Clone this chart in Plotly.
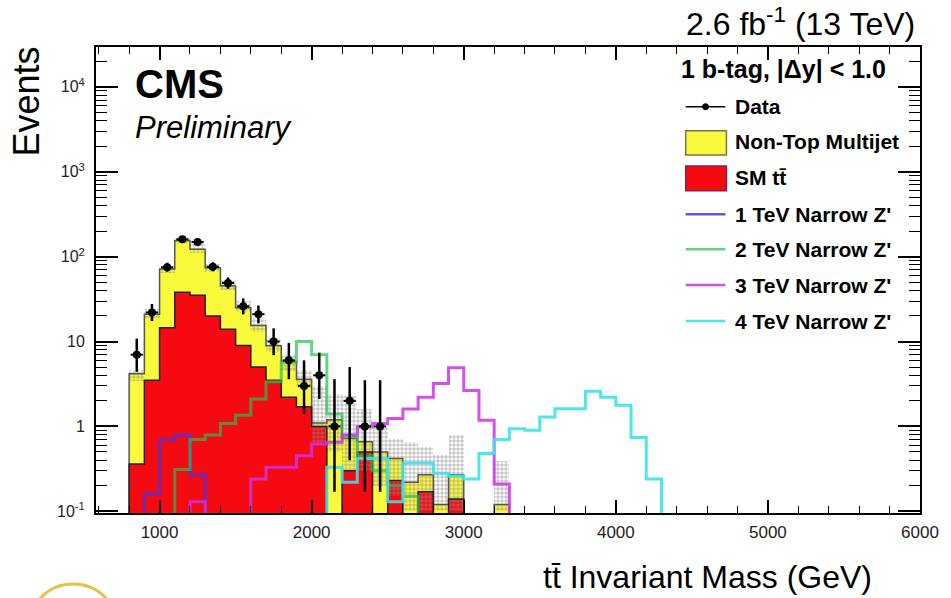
import plotly.graph_objects as go

# ---------------- data ----------------
first_edge = 800          # GeV, lower edge of first bin
bin_width = 100           # GeV

# stacked backgrounds, bins from 800 GeV
ttbar    = [0.36, 3.5, 14.5, 38, 35, 20, 14, 9, 5, 3.5, 2.2, 1.7, 1.0, 0.05, 0.3, 0.5,
            0.05, 0.23, 0.05, 0.17, 0.05, 0.14, 0, 0, 0.0, 0]
multijet = [3.8, 17.5, 57, 117, 87, 54, 31, 16, 10.4, 5.4, 3.6, 1.9, 0.1, 1.15, 0.42, 0.16,
            0.45, 0.19, 0.17, 0.1, 0.07, 0.13, 0, 0, 0.12, 0]
unc_hi   = [4.6, 24, 78, 165, 145, 82, 52, 30, 19, 11, 7, 4.6, 3.0, 2.4, 2.3, 1.6,
            0.95, 0.72, 0.66, 0.58, 0.46, 0.79, 0, 0, 0.39, 0]
unc_lo   = [3.4, 19, 65, 140, 110, 66, 40, 22, 13, 7.5, 4.5, 2.8, 0.6, 0.5, 0.3, 0.3,
            0.2, 0.15, 0.1, 0.1, 0.1, 0.1, 0, 0, 0.1, 0]

# data, bins from 800 GeV
data        = [7, 22, 75, 160, 149, 76, 49, 26, 21, 10, 6, 3, 4, 1, 2, 1, 1]
data_err_up = [3.8, 5.7, 9.7, 13.6, 13.2, 9.8, 8.0, 6.2, 5.6, 4.3, 3.6, 3.0, 3.4, 2.6, 3.0, 2.5, 2.5]
data_err_dn = [2.6, 4.6, 8.6, 12.6, 12.2, 8.7, 7.0, 5.1, 4.6, 3.1, 2.4, 1.6, 1.9, 0.83, 1.6, 0.83, 0.83]

# signals (first bin lower edge, contents)
z1_start = 900
z1 = [0.16, 0.69, 0.79, 0.27]
z2_start = 1100
z2 = [0.31, 0.7, 0.79, 1.08, 1.35, 2.1, 3.35, 5.7, 10, 7, 1.4, 0.75, 0.45, 0.3, 0.2, 0.15]
z3_start = 1200
z3 = [0.13, 0.05, 0.05, 0.05, 0.24, 0.33, 0.33, 0.45, 0.62, 0.65, 0.79, 0.99, 1.08, 1.24,
      1.6, 2.2, 3.2, 4.9, 2.65, 1.18, 0.21]
z4_start = 2100
z4 = [0.33, 0.22, 0.42, 0.42, 0.13, 0.37, 0.37, 0.28, 0.26, 0.24, 0.48, 0.7, 0.94, 0.9,
      1.29, 1.62, 1.62, 2.6, 2.2, 1.77, 0.74, 0.24]

x_tickvals = [1000, 2000, 3000, 4000, 5000, 6000]
y_tickvals = [0.1, 1, 10, 100, 1000, 10000]
y_ticktext = ["10<sup>-1</sup>", "1", "10", "10<sup>2</sup>", "10<sup>3</sup>", "10<sup>4</sup>"]

legend_labels = ["Data", "Non-Top Multijet", "SM tt\u0304", "1 TeV Narrow Z'",
                 "2 TeV Narrow Z'", "3 TeV Narrow Z'", "4 TeV Narrow Z'"]

# ---------------- styling ----------------
FONT = "Liberation Sans, Arial, Helvetica, sans-serif"
YELLOW = "#fafa3c"
RED = "#f50a12"
C1, C2, C3, C4 = "#5533d6", "#22c24e", "#cc33e8", "#3de3ea"
SIG_OPACITY = [0.85, 0.7, 0.85, 0.9]
FLOOR = 1e-4

W, H = 951, 598
L, R, T, B = 96, 25, 47, 85
PW, PH = W - L - R, H - T - B


def px(xp):
    return (xp - L) / PW


def py(yp):
    return (H - B - yp) / PH


def centers(start, n):
    return [start + bin_width * (i + 0.5) for i in range(n)]


def step(start, vals):
    n = len(vals)
    xs = [start] + [start + bin_width * i for i in range(n)] + [start + bin_width * n]
    ys = [FLOOR] + [max(v, FLOOR) for v in vals] + [FLOOR]
    return xs, ys


total = [a + b for a, b in zip(ttbar, multijet)]
nb = len(total)

fig = go.Figure()

# stacked backgrounds as bars (overlay: total first, then ttbar on top)
fig.add_trace(go.Bar(x=centers(first_edge, nb), y=total, width=bin_width,
                     marker=dict(color=YELLOW, line=dict(width=0)), showlegend=False))
fig.add_trace(go.Bar(x=centers(first_edge, nb), y=ttbar, width=bin_width,
                     marker=dict(color=RED, line=dict(width=0)), showlegend=False))
# uncertainty hatch
band_base = [lo if hi > 0 else 0.1 for lo, hi in zip(unc_lo, unc_hi)]
band_h = [(hi - lo) if hi > 0 else 0 for lo, hi in zip(unc_lo, unc_hi)]
fig.add_trace(go.Bar(x=centers(first_edge, nb), y=band_h, base=band_base, width=bin_width,
                     marker=dict(color="rgba(0,0,0,0)", line=dict(width=0),
                                 pattern=dict(shape=".", fgcolor="#8e8e8e", size=4, solidity=0.6)),
                     showlegend=False))
# outlines
xs, ys = step(first_edge, total)
fig.add_trace(go.Scatter(x=xs, y=ys, mode="lines", line=dict(color="#555555", width=1.5, shape="hv"),
                         showlegend=False, hoverinfo="skip"))
xs, ys = step(first_edge, ttbar)
fig.add_trace(go.Scatter(x=xs, y=ys, mode="lines", line=dict(color="#222222", width=1.5, shape="hv"),
                         showlegend=False, hoverinfo="skip"))

# signals
for start, vals, col, op in [(z1_start, z1, C1, SIG_OPACITY[0]), (z2_start, z2, C2, SIG_OPACITY[1]),
                             (z3_start, z3, C3, SIG_OPACITY[2]), (z4_start, z4, C4, SIG_OPACITY[3])]:
    xs, ys = step(start, vals)
    fig.add_trace(go.Scatter(x=xs, y=ys, mode="lines", line=dict(color=col, width=3, shape="hv"),
                             opacity=op, showlegend=False, hoverinfo="skip"))

# data
fig.add_trace(go.Scatter(
    x=centers(first_edge, len(data)), y=data, mode="markers",
    marker=dict(color="black", size=8, symbol="circle"),
    error_y=dict(type="data", symmetric=False, array=data_err_up, arrayminus=data_err_dn,
                 color="black", thickness=2.5, width=0),
    error_x=dict(type="constant", value=40, color="black", thickness=2, width=0),
    showlegend=False))

# ---------------- axes ----------------
fig.update_xaxes(range=[582, 6000], tickmode="array", tickvals=x_tickvals,
                 ticks="inside", ticklen=13, tickwidth=1.5, tickcolor="black",
                 minor=dict(ticks="inside", ticklen=7, dtick=200, tick0=0, tickwidth=1.2, tickcolor="black",
                            showgrid=False),
                 showline=True, linecolor="black", linewidth=2, mirror="ticks",
                 showgrid=False, zeroline=False,
                 tickfont=dict(family=FONT, size=17, color="#222222"), ticklabelstandoff=3)
minor_y = [m * 10 ** e for e in range(-1, 5) for m in range(2, 10)]
fig.update_yaxes(type="log", range=[-1.02, 4.47], tickmode="array", tickvals=y_tickvals,
                 ticktext=y_ticktext,
                 ticks="inside", ticklen=22, tickwidth=1.5, tickcolor="black",
                 minor=dict(ticks="inside", ticklen=11, tickmode="array", tickvals=minor_y,
                            tickwidth=1.2, tickcolor="black", showgrid=False),
                 showline=True, linecolor="black", linewidth=2, mirror="ticks",
                 showgrid=False, zeroline=False,
                 tickfont=dict(family=FONT, size=16, color="#222222"), ticklabelstandoff=6)

# ---------------- text ----------------
ann = []
ann.append(dict(text="2.6 fb<sup>-1</sup> (13 TeV)", x=px(923), y=py(22), xanchor="right", yanchor="middle",
                font=dict(family=FONT, size=32, color="black")))
ann.append(dict(text="<b>CMS</b>", x=px(133), y=py(84), xanchor="left", yanchor="middle",
                font=dict(family=FONT, size=40, color="black")))
ann.append(dict(text="<i>Preliminary</i>", x=px(133), y=py(127), xanchor="left", yanchor="middle",
                font=dict(family=FONT, size=31, color="black")))
ann.append(dict(text="<b>1 b-tag, |\u0394y| &lt; 1.0</b>", x=px(894), y=py(69), xanchor="right",
                yanchor="middle", font=dict(family=FONT, size=25, color="black")))
ann.append(dict(text="Events", x=px(25), y=py(102), textangle=-90, xanchor="center", yanchor="middle",
                font=dict(family=FONT, size=36, color="black")))
ann.append(dict(text="tt\u0304 Invariant Mass (GeV)", x=px(712), y=py(577), xanchor="center",
                yanchor="middle", font=dict(family=FONT, size=32, color="black")))

leg_y = [106.7, 141.7, 177.3, 214.3, 249.3, 285, 321]
for lab, yy in zip(legend_labels, leg_y):
    ann.append(dict(text="<b>" + lab + "</b>", x=px(738), y=py(yy), xanchor="left", yanchor="middle",
                    font=dict(family=FONT, size=21, color="black")))
for a in ann:
    a.update(xref="paper", yref="paper", showarrow=False)

shapes = []
# data legend symbol
shapes.append(dict(type="line", x0=px(690), x1=px(730), y0=py(leg_y[0]), y1=py(leg_y[0]),
                   line=dict(color="black", width=1.5)))
shapes.append(dict(type="circle", x0=px(707), x1=px(713), y0=py(leg_y[0] + 3), y1=py(leg_y[0] - 3),
                   fillcolor="black", line=dict(color="black", width=1)))
# boxes
shapes.append(dict(type="rect", x0=px(690), x1=px(731), y0=py(155), y1=py(130.7),
                   fillcolor=YELLOW, line=dict(color="#777744", width=1.5)))
shapes.append(dict(type="rect", x0=px(690), x1=px(731), y0=py(190.7), y1=py(166),
                   fillcolor=RED, line=dict(color="#882244", width=1.5)))
for col, yy, op in zip([C1, C2, C3, C4], leg_y[3:], SIG_OPACITY):
    shapes.append(dict(type="line", x0=px(690), x1=px(730), y0=py(yy), y1=py(yy),
                       line=dict(color=col, width=2.5), opacity=op))
# faint logo arc bottom-left
shapes.append(dict(type="circle", x0=px(28), x1=px(118), y0=py(672), y1=py(584),
                   line=dict(color="#e6c24a", width=3)))
for s in shapes:
    s.update(xref="paper", yref="paper")

fig.update_layout(width=W, height=H, margin=dict(l=L, r=R, t=T, b=B),
                  paper_bgcolor="white", plot_bgcolor="white", barmode="overlay", bargap=0,
                  annotations=ann, shapes=shapes, showlegend=False,
                  font=dict(family=FONT))

fig.write_html("out.html")
